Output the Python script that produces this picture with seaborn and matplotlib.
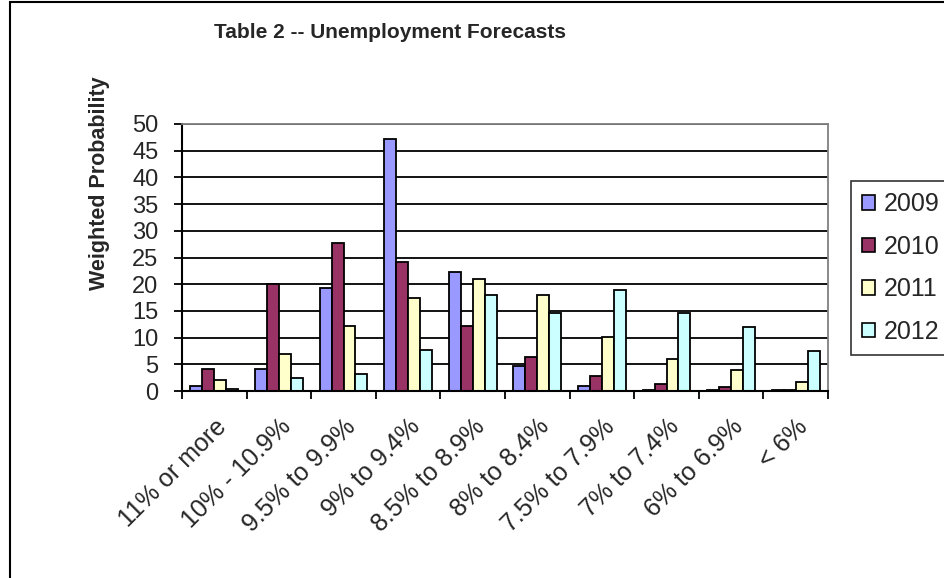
import matplotlib
matplotlib.use("Agg")
import matplotlib.pyplot as plt
import seaborn as sns
import pandas as pd
import numpy as np
from matplotlib.patches import Rectangle

categories = ["11% or more", "10% - 10.9%", "9.5% to 9.9%", "9% to 9.4%", "8.5% to 8.9%",
              "8% to 8.4%", "7.5% to 7.9%", "7% to 7.4%", "6% to 6.9%", "< 6%"]
years = ["2009", "2010", "2011", "2012"]
v2009 = [1.0, 4.2, 19.3, 47.1, 22.2, 4.7, 1.0, 0.2, 0.2, 0.2]
v2010 = [4.2, 20.0, 27.7, 24.2, 12.2, 6.3, 2.9, 1.4, 0.7, 0.2]
v2011 = [2.1, 7.0, 12.2, 17.5, 21.0, 17.9, 10.2, 6.0, 3.9, 1.7]
v2012 = [0.4, 2.4, 3.1, 7.7, 17.9, 14.7, 19.0, 14.7, 11.9, 7.4]
colors = ["#9999FF", "#993366", "#FFFFCC", "#CCFFFF"]

rows = []
for y, vals in zip(years, [v2009, v2010, v2011, v2012]):
    for c, v in zip(categories, vals):
        rows.append({"Category": c, "Year": y, "Value": v})
df = pd.DataFrame(rows)

sns.set_style("white")
plt.rcParams["font.family"] = ["Liberation Sans", "DejaVu Sans"]

fig = plt.figure(figsize=(9.44, 5.78), dpi=100)
ax = fig.add_axes([182/944, 1-391/578, (828-182)/944, (391-124)/578])

sns.barplot(data=df, x="Category", y="Value", hue="Year", order=categories,
            hue_order=years, palette=colors, width=0.74, edgecolor="black",
            linewidth=1.3, ax=ax, legend=True, saturation=1)

ax.set_ylim(0, 50)
ax.set_xlim(-0.5, len(categories) - 0.5)
ax.set_yticks(range(0, 51, 5))
ax.yaxis.grid(True, color="black", linewidth=1.3)
ax.set_axisbelow(True)
ax.tick_params(axis="y", length=6, width=1.3, color="black", labelsize=17, direction="out", left=True, pad=11)
ax.set_xticks(range(len(categories)))
ax.set_xticklabels(categories, rotation=45, ha="right", rotation_mode="anchor", fontsize=18)
ax.tick_params(axis="x", length=0, pad=17)
ax.set_xticks(np.arange(-0.5, len(categories), 1.0), minor=True)
ax.tick_params(axis="x", which="minor", length=6, width=1.3, color="black", direction="out", bottom=True)
ax.set_xlabel("")
ax.set_ylabel("")
for s in ["left", "bottom"]:
    ax.spines[s].set_color("black")
    ax.spines[s].set_linewidth(1.5)
for s in ["top", "right"]:
    ax.spines[s].set_color("#808080")
    ax.spines[s].set_linewidth(1.3)
    ax.spines[s].set_visible(True)

ax.get_legend().remove()
handles = [Rectangle((0, 0), 1, 1, facecolor=c, edgecolor="black", linewidth=1.2) for c in colors]
leg = fig.legend(handles, years, loc="upper left", bbox_to_anchor=(851/944, 1-181/578),
                 bbox_transform=fig.transFigure, fontsize=18, frameon=True, fancybox=False,
                 handlelength=0.52, handleheight=0.52, handletextpad=0.33, labelspacing=0.74,
                 borderpad=0.45, borderaxespad=0)
leg.get_frame().set_edgecolor("black")
leg.get_frame().set_linewidth(1.2)

fig.text(390/944, 1-33/578, "Table 2 -- Unemployment Forecasts", ha="center", va="center",
         fontsize=15, fontweight="bold")
fig.text(100/944, 1-183/578, "Weighted Probability", ha="center", va="center",
         rotation=90, fontsize=15.5, fontweight="bold")

fig.add_artist(Rectangle((9.5/944, -0.05), 1.1, 1 - 2/578 + 0.05, transform=fig.transFigure,
                         fill=False, edgecolor="black", linewidth=1.5))

fig.savefig("out.png", dpi=100)
